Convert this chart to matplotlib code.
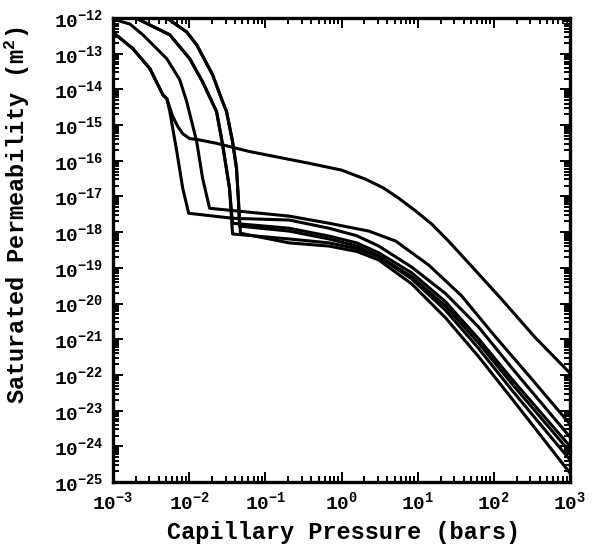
import numpy as np
import matplotlib
matplotlib.use("Agg")
import matplotlib.pyplot as plt
from matplotlib.ticker import LogLocator, NullFormatter, FuncFormatter, FixedLocator

plt.rcParams["font.family"] = ["Liberation Mono", "DejaVu Sans"]
plt.rcParams["font.weight"] = "bold"
plt.rcParams["mathtext.fontset"] = "custom"
plt.rcParams["mathtext.rm"] = "Liberation Mono:bold"
plt.rcParams["mathtext.it"] = "Liberation Mono:bold"
plt.rcParams["mathtext.bf"] = "Liberation Mono:bold"

# valores, en log10 (presión en bares, permeabilidad en m2)
# tallo compartido por las curvas A y E
stem_ae_x = [-3.0, -2.739, -2.516, -2.346, -2.294]
stem_ae_y = [-12.40, -12.86, -13.42, -14.15, -14.26]

# curva E (meseta alta)
e_x = stem_ae_x + [-2.216, -2.150, -2.085, -1.993, -1.902, -1.641, -1.209,
                   -0.425, 0.0, 0.320, 0.55, 0.752, 0.97, 1.183, 1.405, 1.706,
                   2.098, 2.542, 3.0]
e_y = stem_ae_y + [-14.76, -15.04, -15.24, -15.38, -15.40, -15.51, -15.74,
                   -16.07, -16.26, -16.52, -16.76, -17.05, -17.40, -17.77, -18.25,
                   -18.95, -19.87, -20.95, -21.95]

# curva A
a_x = stem_ae_x + [-2.255, -2.163, -2.085, -2.007,
                   -1.43, -0.686, -0.163, 0.20, 0.49, 0.922, 1.366, 1.797, 2.25, 3.0]
a_y = stem_ae_y + [-14.62, -15.74, -16.77, -17.47,
                   -17.61, -17.66, -17.89, -18.10, -18.39, -18.98, -19.72, -20.65,
                   -21.84, -23.74]

# curva B
b_x = [-3.0, -2.778, -2.608, -2.294, -2.124, -2.033, -1.902, -1.824, -1.732,
       -1.21, -0.686, -0.163, 0.359, 0.712, 1.144, 1.575, 2.0, 2.5, 3.0]
b_y = [-12.03, -12.17, -12.47, -13.14, -13.73, -14.34, -15.46, -16.49, -17.33,
       -17.44, -17.55, -17.75, -17.97, -18.25, -18.92, -19.78, -20.88, -22.12, -23.38]

# tallo C (dos curvas) y tallo D (dos curvas)
stem_c_x = [-2.70, -2.255, -1.993, -1.824, -1.641, -1.562, -1.471]
stem_c_y = [-12.0, -12.47, -13.14, -13.79, -14.62, -15.54, -16.77]
stem_d_x = [-2.294, -2.033, -1.902, -1.693, -1.562, -1.510, -1.431, -1.379, -1.353]
stem_d_y = [-12.0, -12.39, -12.75, -13.59, -14.34, -14.62, -15.46, -16.21, -17.13]

tail_x = [-0.686, -0.163, 0.20, 0.49, 0.922, 1.366, 1.797, 2.25, 3.0]

c1_x = stem_c_x + [-1.431] + tail_x
c1_y = stem_c_y + [-17.75, -17.89, -18.11, -18.30, -18.58, -19.14, -19.95, -20.98,
                   -22.15, -24.00]
d1_x = stem_d_x + [-1.340] + tail_x
d1_y = stem_d_y + [-17.83, -17.97, -18.19, -18.39, -18.67, -19.25, -20.07, -21.10,
                   -22.28, -24.16]
c2_x = stem_c_x + [-1.431] + tail_x
c2_y = stem_c_y + [-18.05, -18.19, -18.30, -18.46, -18.69, -19.31, -20.19, -21.25,
                   -22.46, -24.38]
d2_x = stem_d_x + [-1.327] + tail_x
d2_y = stem_d_y + [-18.03, -18.30, -18.39, -18.54, -18.78, -19.45, -20.40, -21.48,
                   -22.70, -24.75]

curvas = [(e_x, e_y), (a_x, a_y), (b_x, b_y),
          (c1_x, c1_y), (d1_x, d1_y), (c2_x, c2_y), (d2_x, d2_y)]

# décadas rotuladas
x_decadas = list(range(-3, 4))
y_decadas = list(range(-25, -11))

fig = plt.figure(figsize=(5.95, 5.5), dpi=100)
ax = fig.add_axes([0.19, 0.1236, 0.768, 0.8436])

for lx, ly in curvas:
    ax.plot(10.0 ** np.array(lx), 10.0 ** np.array(ly), color="black",
            lw=2.2, solid_joinstyle="round", solid_capstyle="round")

ax.set_xscale("log")
ax.set_yscale("log")
ax.set_xlim(1e-3, 1e3)
ax.set_ylim(1e-25, 1e-12)

fmt = FuncFormatter(lambda v, _: f"$10^{{{int(round(np.log10(v)))}}}$")
ax.xaxis.set_major_locator(FixedLocator([10.0 ** k for k in x_decadas]))
ax.yaxis.set_major_locator(FixedLocator([10.0 ** k for k in y_decadas]))
for axis in (ax.xaxis, ax.yaxis):
    axis.set_minor_locator(LogLocator(base=10, subs=np.arange(2, 10), numticks=30))
    axis.set_major_formatter(fmt)
    axis.set_minor_formatter(NullFormatter())

ax.tick_params(which="both", direction="in", top=True, right=True, width=1.4)
ax.tick_params(which="major", length=7)
ax.tick_params(which="minor", length=4)
ax.tick_params(axis="x", labelsize=14, pad=6)
ax.tick_params(axis="y", labelsize=14, pad=7)
for s in ax.spines.values():
    s.set_linewidth(2.4)

ax.set_xlabel("Capillary Pressure (bars)", fontsize=17, fontweight="bold")
ax.set_ylabel("Saturated Permeability (m$^2$)", fontsize=17, fontweight="bold")
ax.xaxis.set_label_coords(0.505, -0.083)
ax.yaxis.set_label_coords(-0.178, 0.575)

fig.savefig("out.png", dpi=100, facecolor="white")
